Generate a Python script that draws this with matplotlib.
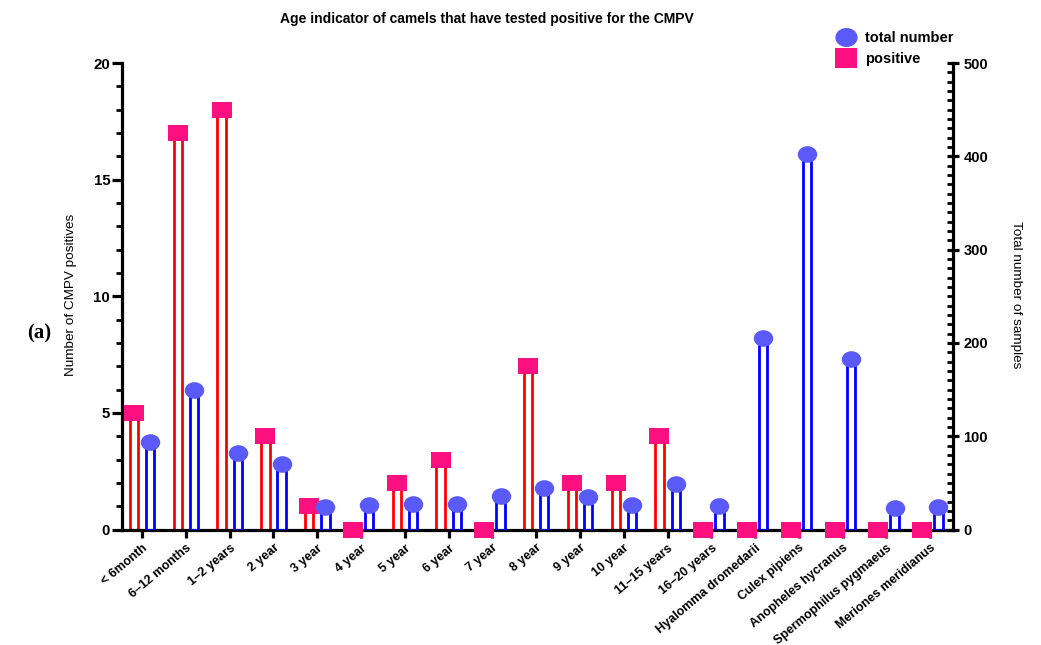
import numpy as np
import matplotlib
matplotlib.use("Agg")
import matplotlib.pyplot as plt
from matplotlib.path import Path
from matplotlib.transforms import Affine2D
from matplotlib.lines import Line2D
from matplotlib.ticker import MultipleLocator

categories = ["< 6month", "6–12 months", "1–2 years", "2 year", "3 year", "4 year",
              "5 year", "6 year", "7 year", "8 year", "9 year", "10 year",
              "11–15 years", "16–20 years", "Hyalomma dromedarii", "Culex pipiens",
              "Anopheles hycranus", "Spermophilus pygmaeus", "Meriones meridianus"]
positive = [5, 17, 18, 4, 1, 0, 2, 3, 0, 7, 2, 2, 4, 0, 0, 0, 0, 0, 0]
total = [94, 150, 82, 70, 24, 26, 27, 27, 36, 44, 35, 26, 49, 25, 205, 403, 183, 23, 24]

plt.rcParams['font.family'] = ['Liberation Sans', 'DejaVu Sans']

RED = "#ff0000"
BLUE = "#0000ff"
PINK = "#ff1080"
LILAC = "#5a5af8"

# slightly wide ellipse / rectangle markers
ellipse = Path.unit_circle().transformed(Affine2D().scale(1.17, 1.0))
rect = Path.unit_rectangle().transformed(Affine2D().translate(-0.5, -0.5).scale(1.15, 1.0))

fig = plt.figure(figsize=(10.41, 6.45), dpi=100)
ax = fig.add_axes([0.1172, 0.179, 0.7983, 0.7233])
ax2 = ax.twinx()

x = np.arange(len(categories))
off = 0.185
bw = 0.19

ax.bar(x - off, positive, width=bw, fill=False, edgecolor=RED, linewidth=2.0, zorder=2)
ax.plot(x - off, positive, linestyle="none", marker=rect, markersize=14,
        color=PINK, markeredgewidth=0, zorder=5, clip_on=False)

ax2.bar(x + off, total, width=bw, fill=False, edgecolor=BLUE, linewidth=2.0, zorder=2)
ax2.plot(x + off, total, linestyle="none", marker=ellipse, markersize=14,
         color=LILAC, markeredgewidth=0, zorder=5, clip_on=False)

ax.set_xlim(-0.46, 18.52)
ax.set_ylim(0, 20)
ax2.set_ylim(0, 500)

# spines
ax.spines["top"].set_visible(False)
ax2.spines["top"].set_visible(False)
ax.spines["right"].set_visible(False)
ax2.spines["left"].set_visible(False)
ax2.spines["bottom"].set_visible(False)
for sp in [ax.spines["left"], ax.spines["bottom"], ax2.spines["right"]]:
    sp.set_linewidth(2.3)
ax.spines["bottom"].set_zorder(3)

# ticks
ax.set_xticks(x)
ax.set_xticklabels(categories, rotation=40, ha="right", rotation_mode="anchor",
                   fontsize=9.0, fontweight="bold")
ax.tick_params(axis="x", length=6, width=2.3, pad=3)
ax.yaxis.set_major_locator(MultipleLocator(5))
ax.yaxis.set_minor_locator(MultipleLocator(1))
ax.tick_params(axis="y", which="major", length=7, width=2.3, labelsize=10.8, pad=1.5)
ax.tick_params(axis="y", which="minor", length=4, width=2.0)
for lab in ax.get_yticklabels():
    lab.set_fontweight("bold")

ax2.yaxis.set_major_locator(MultipleLocator(100))
ax2.yaxis.set_minor_locator(MultipleLocator(10))
ax2.tick_params(axis="y", which="major", direction="inout", length=8, width=2.3, labelsize=10.5)
ax2.tick_params(axis="y", which="minor", direction="in", length=4, width=2.0)
for lab in ax2.get_yticklabels():
    lab.set_fontweight("bold")

ax.set_ylabel("Number of CMPV positives", fontsize=9.7, va="center")
ax.yaxis.set_label_coords(-0.061, 0.503)
ax2.set_ylabel("Total number of samples", fontsize=9.7, rotation=270, va="center")
ax2.yaxis.set_label_coords(1.076, 0.503)

fig.text(0.468, 0.971, "Age indicator of camels that have tested positive for the CMPV",
         ha="center", va="center", fontsize=10, fontweight="bold")

fig.text(0.038, 0.483, "(a)", ha="center", va="center", fontsize=15,
         family=["Liberation Serif", "DejaVu Serif"], fontweight="bold")

handles = [Line2D([], [], linestyle="none", marker=ellipse, markersize=16, color=LILAC,
                  markeredgewidth=0),
           Line2D([], [], linestyle="none", marker=rect, markersize=16, color=PINK,
                  markeredgewidth=0)]
leg = fig.legend(handles, ["total number", "positive"], loc="upper left",
                 bbox_to_anchor=(0.792, 0.972), frameon=False, handlelength=1.2,
                 handletextpad=0.7, labelspacing=0.45,
                 prop={"weight": "bold", "size": 10.5})

fig.savefig("out.png", dpi=100)
